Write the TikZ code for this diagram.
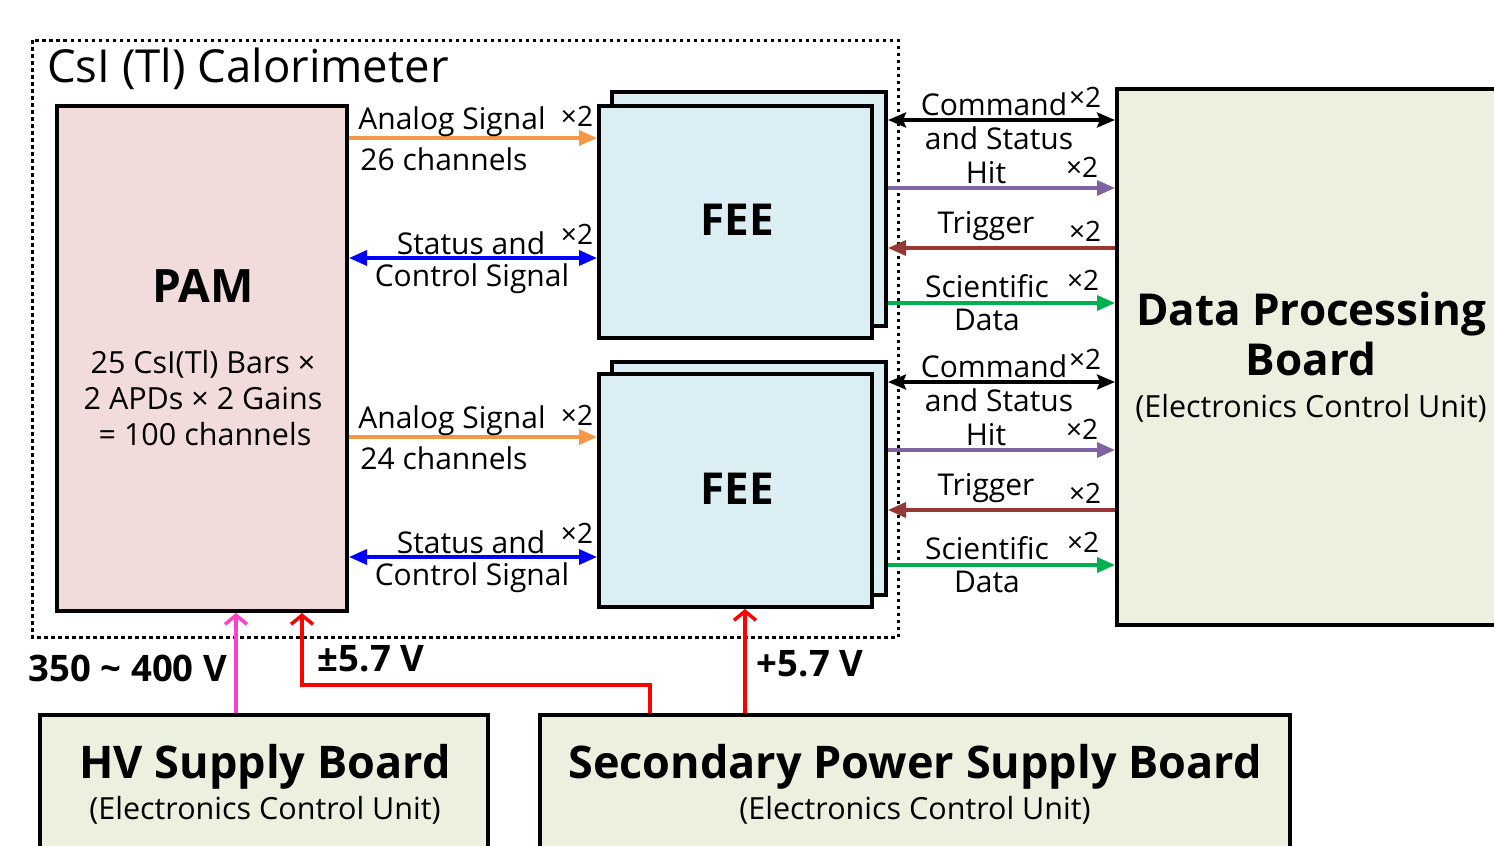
\documentclass[tikz,border=0pt]{standalone}
\usepackage{fontspec}
\setmainfont{Open Sans}
\usetikzlibrary{arrows.meta}
\definecolor{orangeA}{HTML}{F79646}
\definecolor{blueA}{HTML}{0000FF}
\definecolor{purpleA}{HTML}{8064A2}
\definecolor{brownA}{HTML}{953735}
\definecolor{greenA}{HTML}{00B050}
\definecolor{magentaA}{HTML}{FF40C8}
\definecolor{redA}{HTML}{FF0000}
\definecolor{pamfill}{HTML}{F2DCDB}
\definecolor{feefill}{HTML}{DAEEF3}
\definecolor{boardfill}{HTML}{EBF1DE}
\newcommand{\fsz}[2]{\fontsize{#1}{#2}\selectfont}
\begin{document}
\begin{tikzpicture}[x=1pt,y=-1pt,
  box/.style={draw=black, line width=4pt, rectangle, inner sep=0pt},
  lbl/.style={inner sep=0pt, font=\fsz{30}{34}},
  sub/.style={inner sep=0pt, font=\fsz{30.5}{35}},
  xtwo/.style={inner sep=0pt, font=\fsz{28}{32}},
  sig/.style={line width=3.5pt},
  tri/.style={-{Triangle[length=18pt,width=15pt]}},
  dtri/.style={{Triangle[length=18pt,width=15pt]}-{Triangle[length=18pt,width=15pt]}},
  pwr/.style={line width=3.5pt, -{Straight Barb[length=9pt,width=22pt]}},
  big/.style={inner sep=0pt, font=\bfseries\fsz{44}{50}},
  volt/.style={inner sep=0pt, font=\bfseries\fsz{36.5}{42}}
]
\clip (0,0) rectangle (1494,846);
\fill[white] (0,0) rectangle (1494,846);

% calorimeter frame
\draw[line width=3pt, dash pattern=on 3.5pt off 3.5pt] (32,40) rectangle (898,637);
\node[inner sep=0pt, anchor=west, font=\fsz{45.5}{52}] (title) at (47,69) {CsI (Tl) Calorimeter};

% PAM
\node[box, fill=pamfill, minimum width=290, minimum height=505] (pam) at (202,358.5) {};
\node[big, font=\bfseries\fsz{46}{52}] (pamt) at (203,286) {PAM};
\node[sub] (pam1) at (203,364) {25 CsI(Tl) Bars ×};
\node[sub] (pam2) at (203,398) {2 APDs × 2 Gains};
\node[sub] (pam3) at (205,434) {= 100 channels};

% FEE boxes
\node[box, fill=feefill, minimum width=274, minimum height=234] (fee1b) at (749,209) {};
\node[box, fill=feefill, minimum width=273, minimum height=232] (fee1) at (735.5,222) {};
\node[big] (fee1t) at (737,220) {FEE};
\node[box, fill=feefill, minimum width=274, minimum height=233] (fee2b) at (749,478.5) {};
\node[box, fill=feefill, minimum width=273, minimum height=233] (fee2) at (735.5,490.5) {};
\node[big] (fee2t) at (737,489) {FEE};

% Data processing board
\node[box, fill=boardfill, minimum width=392, minimum height=536] (dpb) at (1313,357) {};
\node[big] (dpb1) at (1311,314) {Data Processing};
\node[big] (dpb2) at (1311,359) {Board};
\node[sub] (dpb3) at (1311,408) {(Electronics Control Unit)};

% Supply boards
\node[box, fill=boardfill, minimum width=448, minimum height=150] (hv) at (264,790) {};
\node[big, font=\bfseries\fsz{45}{50}] (hv1) at (265,767) {HV Supply Board};
\node[sub] (hv2) at (265,810) {(Electronics Control Unit)};
\node[box, fill=boardfill, minimum width=750, minimum height=150] (sps) at (915,790) {};
\node[big, font=\bfseries\fsz{45}{50}] (sps1) at (915,767) {Secondary Power Supply Board};
\node[sub] (sps2) at (915,810) {(Electronics Control Unit)};

% PAM <-> FEE signals
\foreach \f/\y/\n in {fee1/0/26, fee2/299/24}{
  \draw[sig, draw=orangeA, fill=orangeA, tri] (pam.east |- 0,138+\y) -- (\f.west |- 0,138+\y);
  \draw[sig, draw=blueA, fill=blueA, dtri] (pam.east |- 0,258+\y) -- (\f.west |- 0,258+\y);
  \node[lbl] at (452,122+\y) {Analog Signal};
  \node[xtwo] at (577,116+\y) {×2};
  \node[lbl] at (444,159+\y) {\n\ channels};
  \node[lbl] at (471,243+\y) {Status and};
  \node[xtwo] at (577,234+\y) {×2};
  \node[lbl] at (472,279+\y) {Control Signal};
}

% FEE <-> DPB signals
\foreach \f/\y in {fee1b/0, fee2b/262}{
  \draw[sig, draw=black, fill=black, {Stealth[length=18pt,width=15pt,inset=3pt]}-{Stealth[length=18pt,width=15pt,inset=3pt]}] (\f.east |- 0,120+\y) -- (dpb.west |- 0,120+\y);
  \draw[sig, draw=purpleA, fill=purpleA, tri] (\f.east |- 0,188+\y) -- (dpb.west |- 0,188+\y);
  \draw[sig, draw=brownA, fill=brownA, tri] (dpb.west |- 0,248+\y) -- (\f.east |- 0,248+\y);
  \draw[sig, draw=greenA, fill=greenA, tri] (\f.east |- 0,303+\y) -- (dpb.west |- 0,303+\y);
  \node[lbl] at (994,104+\y) {Command};
  \node[xtwo] at (1085,97+\y) {×2};
  \node[lbl] at (999,138+\y) {and Status};
  \node[lbl] at (986,173+\y) {Hit};
  \node[xtwo] at (1082,167+\y) {×2};
  \node[lbl] at (986,226+\y) {Trigger};
  \node[xtwo] at (1085,231+\y) {×2};
  \node[lbl] at (987,286+\y) {Scientific};
  \node[xtwo] at (1083,280+\y) {×2};
  \node[lbl] at (987,320+\y) {Data};
}

% power lines
\draw[pwr, draw=magentaA] (hv.north -| 236,0) -- (pam.south -| 236,0);
\draw[pwr, draw=redA] (sps.north -| 650,0) |- (302,685) -- (pam.south -| 302,0);
\draw[pwr, draw=redA] (sps.north -| 745,0) -- (fee2.south -| 745,0);
\node[volt] (v1) at (128,668) {350 \textasciitilde{} 400 V};
\node[volt] (v2) at (371,659) {±5.7 V};
\node[volt] (v3) at (810,664) {+5.7 V};
\end{tikzpicture}
\end{document}
